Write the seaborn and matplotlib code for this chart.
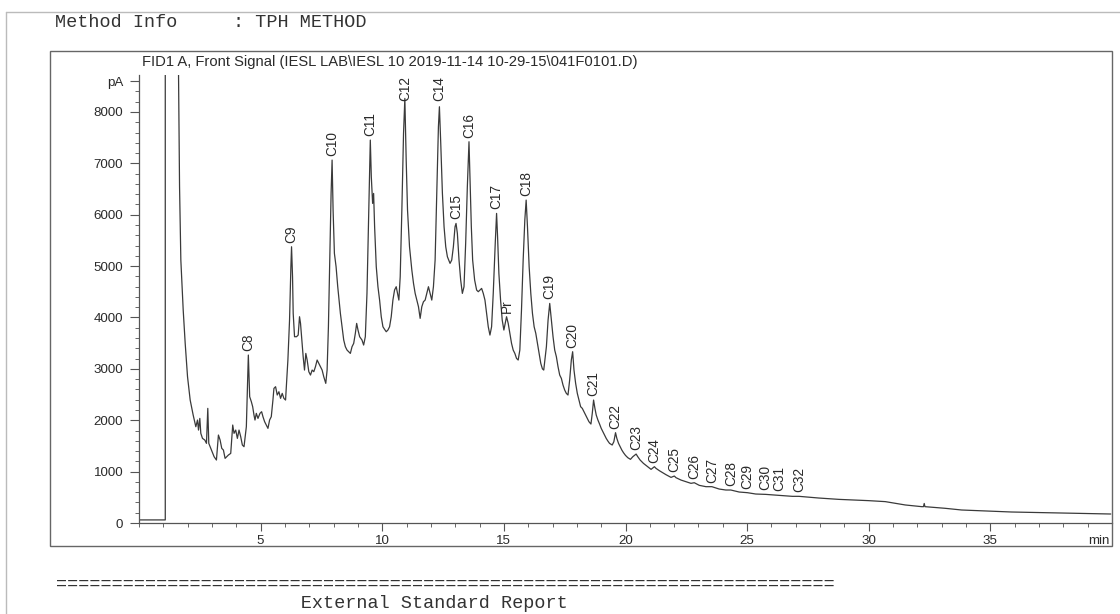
import numpy as np
import pandas as pd
import seaborn as sns
import matplotlib.pyplot as plt
from matplotlib.ticker import MultipleLocator, FixedLocator, FixedFormatter
from matplotlib.lines import Line2D
from matplotlib.patches import Rectangle

# ---------------- data ----------------
time_min = [
    0.0, 1.08, 1.08, 1.62, 1.626, 1.667, 1.72, 1.817, 1.899, 1.995, 2.104, 2.227,
    2.336, 2.405, 2.446, 2.500, 2.541, 2.610, 2.705, 2.774, 2.828, 2.869, 2.951, 3.088,
    3.183, 3.265, 3.334, 3.402, 3.470, 3.539, 3.607, 3.675, 3.771, 3.853, 3.907, 3.976,
    4.044, 4.112, 4.181, 4.249, 4.317, 4.413, 4.495, 4.550, 4.618, 4.673, 4.727, 4.768,
    4.823, 4.891, 4.973, 5.041, 5.096, 5.164, 5.233, 5.301, 5.369, 5.438, 5.506, 5.547,
    5.615, 5.683, 5.752, 5.820, 5.888, 5.957, 6.025, 6.066, 6.121, 6.189, 6.244, 6.271,
    6.312, 6.339, 6.394, 6.476, 6.544, 6.599, 6.640, 6.694, 6.749, 6.804, 6.858, 6.913,
    6.981, 7.050, 7.118, 7.186, 7.254, 7.323, 7.391, 7.459, 7.528, 7.596, 7.678, 7.733,
    7.787, 7.842, 7.897, 7.938, 7.979, 8.033, 8.102, 8.170, 8.224, 8.279, 8.347, 8.416,
    8.484, 8.552, 8.621, 8.689, 8.757, 8.826, 8.894, 8.948, 9.003, 9.071, 9.167, 9.235,
    9.304, 9.372, 9.440, 9.509, 9.550, 9.604, 9.645, 9.686, 9.754, 9.823, 9.891, 9.959,
    10.028, 10.096, 10.164, 10.233, 10.301, 10.369, 10.438, 10.506, 10.574, 10.629, 10.683, 10.738,
    10.806, 10.875, 10.929, 10.984, 11.039, 11.121, 11.216, 11.285, 11.353, 11.421, 11.489, 11.558,
    11.626, 11.694, 11.763, 11.831, 11.899, 11.968, 12.036, 12.104, 12.173, 12.241, 12.309, 12.350,
    12.405, 12.473, 12.541, 12.610, 12.678, 12.733, 12.787, 12.856, 12.924, 12.992, 13.033, 13.088,
    13.156, 13.224, 13.293, 13.361, 13.429, 13.498, 13.566, 13.607, 13.662, 13.716, 13.798, 13.880,
    13.948, 14.017, 14.085, 14.153, 14.222, 14.290, 14.358, 14.427, 14.495, 14.563, 14.645, 14.700,
    14.741, 14.795, 14.864, 14.932, 15.000, 15.055, 15.110, 15.178, 15.246, 15.315, 15.383, 15.451,
    15.520, 15.588, 15.656, 15.724, 15.793, 15.861, 15.916, 15.970, 16.039, 16.107, 16.175, 16.244,
    16.312, 16.380, 16.448, 16.517, 16.585, 16.639, 16.748, 16.817, 16.885, 16.953, 17.021, 17.090,
    17.158, 17.226, 17.295, 17.363, 17.431, 17.500, 17.568, 17.636, 17.704, 17.773, 17.827, 17.882,
    17.950, 18.019, 18.087, 18.155, 18.224, 18.292, 18.360, 18.429, 18.497, 18.579, 18.634, 18.688,
    18.743, 18.797, 18.866, 18.934, 19.002, 19.071, 19.139, 19.207, 19.276, 19.344, 19.453, 19.521,
    19.590, 19.644, 19.713, 19.781, 19.849, 19.918, 20.000, 20.095, 20.204, 20.300, 20.437, 20.505,
    20.601, 20.737, 20.874, 21.051, 21.188, 21.256, 21.393, 21.530, 21.666, 21.871, 22.008, 22.076,
    22.281, 22.486, 22.691, 22.828, 23.032, 23.306, 23.551, 23.852, 24.125, 24.330, 24.672, 25.013,
    25.355, 25.764, 26.311, 26.857, 27.131, 27.950, 28.770, 30.000, 30.680, 31.500, 32.180, 32.250,
    32.280, 32.310, 33.140, 33.820, 34.780, 35.870, 37.240, 38.600, 39.950,
]
signal_pa = [
    60, 60, 30000, 30000, 8686, 6545, 5118, 4145, 3496, 2847, 2393, 2101,
    1874, 2004, 1809, 2036, 1745, 1647, 1615, 1550, 2231, 1550, 1453, 1290,
    1226, 1712, 1615, 1453, 1420, 1258, 1290, 1323, 1355, 1907, 1745, 1809,
    1647, 1809, 1680, 1518, 1485, 1874, 3269, 2458, 2361, 2264, 2101, 2004,
    2134, 2036, 2134, 2166, 2069, 1972, 1907, 1842, 2004, 2069, 2393, 2620,
    2653, 2491, 2555, 2426, 2523, 2426, 2393, 2718, 3172, 3950, 4988, 5377,
    4793, 4080, 3626, 3626, 3658, 4015, 3885, 3561, 3237, 2977, 3301, 3172,
    2945, 2880, 2977, 2945, 3042, 3172, 3107, 3042, 2977, 2847, 2718, 2977,
    3820, 5118, 6415, 7064, 6091, 5248, 4988, 4599, 4339, 4080, 3820, 3561,
    3431, 3366, 3334, 3301, 3431, 3496, 3691, 3885, 3756, 3626, 3561, 3464,
    3626, 4469, 5961, 7453, 6740, 6221, 6415, 5766, 4988, 4599, 4339, 4015,
    3820, 3769, 3723, 3756, 3820, 4015, 4339, 4534, 4599, 4469, 4339, 4793,
    6091, 7583, 8264, 7064, 6091, 5377, 4923, 4664, 4469, 4339, 4210, 3983,
    4210, 4307, 4339, 4469, 4599, 4469, 4339, 4599, 5118, 6415, 7713, 8102,
    7388, 6415, 5766, 5377, 5183, 5118, 5053, 5118, 5377, 5766, 5831, 5637,
    5118, 4729, 4469, 4599, 5442, 6545, 7421, 6740, 5766, 5118, 4729, 4534,
    4502, 4534, 4566, 4469, 4339, 4080, 3820, 3658, 3820, 4469, 5442, 6026,
    5572, 4858, 4339, 3950, 3756, 3885, 4015, 3885, 3691, 3496, 3366, 3301,
    3204, 3172, 3366, 4145, 5118, 5896, 6285, 5766, 4988, 4469, 4080, 3820,
    3691, 3496, 3301, 3107, 3000, 2977, 3431, 3950, 4274, 3950, 3626, 3366,
    3237, 3042, 2880, 2815, 2685, 2588, 2523, 2491, 2782, 3172, 3334, 2977,
    2718, 2523, 2393, 2264, 2231, 2166, 2101, 2036, 1972, 1926, 2134, 2393,
    2231, 2101, 2004, 1926, 1842, 1777, 1712, 1647, 1595, 1550, 1518, 1582,
    1758, 1647, 1550, 1485, 1420, 1368, 1316, 1271, 1239, 1290, 1342, 1290,
    1226, 1161, 1109, 1044, 1096, 1063, 1018, 979, 940, 888, 914, 882,
    836, 804, 772, 784, 733, 707, 707, 661, 642, 642, 603, 590,
    564, 557, 538, 519, 519, 486, 460, 435, 416, 351, 318, 318,
    380, 318, 286, 253, 234, 214, 201, 188, 175,
]

peak_names = ["C8", "C9", "C10", "C11", "C12", "C14", "C15", "C16", "C17", "Pr",
              "C18", "C19", "C20", "C21", "C22", "C23", "C24", "C25", "C26", "C27",
              "C28", "C29", "C30", "C31", "C32"]
peak_times = [4.495, 6.271, 7.938, 9.509, 10.929, 12.350, 13.033, 13.566, 14.700, 15.110,
              15.916, 16.885, 17.827, 18.688, 19.590, 20.437, 21.188, 22.008, 22.828, 23.551,
              24.330, 25.013, 25.764, 26.311, 27.131]
peak_heights = [3269, 5377, 7064, 7453, 8264, 8102, 5831, 7421, 6026, 4015,
                6285, 4274, 3334, 2393, 1758, 1342, 1096, 914, 784, 707,
                642, 590, 557, 538, 519]

x_major = [5, 10, 15, 20, 25, 30, 35]
y_major = [0, 1000, 2000, 3000, 4000, 5000, 6000, 7000, 8000, 8600]
y_major_labels = ["0", "1000", "2000", "3000", "4000", "5000", "6000", "7000", "8000", "pA"]

title_text = "FID1 A, Front Signal (IESL LAB\\IESL 10 2019-11-14 10-29-15\\041F0101.D)"
header_text = "Method Info     : TPH METHOD"
footer_rule = "=" * 70
footer_text = " " * 22 + "External Standard Report"

# ---------------- styling ----------------
sns.set_theme(style="white")
plt.rcParams['font.family'] = ['Liberation Sans', 'DejaVu Sans']

W, H = 1120, 614
fig = plt.figure(figsize=(W / 100, H / 100), dpi=100)
fig.patch.set_facecolor("white")

ax_left, ax_right, ax_top, ax_bottom = 139, 1112, 75, 523
ax = fig.add_axes([ax_left / W, 1 - ax_bottom / H, (ax_right - ax_left) / W, (ax_bottom - ax_top) / H])
ax.set_facecolor("none")

df = pd.DataFrame({"time": time_min, "signal": signal_pa})
sns.lineplot(data=df, x="time", y="signal", ax=ax, sort=False, estimator=None,
             color="#3a3a3a", linewidth=0.9)

ax.set_xlim(0, 40)
ax.set_ylim(0, 8720)
ax.set_xlabel("")
ax.set_ylabel("")

ink = "#2a2a2a"
ax.xaxis.set_major_locator(FixedLocator(x_major))
ax.xaxis.set_minor_locator(MultipleLocator(1))
ax.yaxis.set_major_locator(FixedLocator(y_major))
ax.yaxis.set_major_formatter(FixedFormatter(y_major_labels))
ax.yaxis.set_minor_locator(MultipleLocator(200))
ax.tick_params(axis="x", which="major", direction="out", length=6, width=0.8,
               color="#555555", labelsize=9.6, labelcolor=ink, pad=2.5, bottom=True)
ax.tick_params(axis="y", which="major", direction="out", length=6.5, width=0.8,
               color="#555555", labelsize=9.6, labelcolor=ink, pad=4.8, left=True)
ax.tick_params(axis="both", which="minor", direction="out", length=3, width=0.7,
               color="#666666", bottom=True, left=True)
for side in ["top", "right"]:
    ax.spines[side].set_visible(False)
for side in ["left", "bottom"]:
    ax.spines[side].set_color("#555555")
    ax.spines[side].set_linewidth(0.9)

ax.annotate("min", xy=(1, 0), xycoords="axes fraction", xytext=(-2, -8.5),
            textcoords="offset points", ha="right", va="top", fontsize=9.6, color=ink)

# peak labels
ytop = ax.get_ylim()[1]
for name, t, h in zip(peak_names, peak_times, peak_heights):
    if h > 8000:
        ax.annotate(name, xy=(t, ytop - 30), ha="center", va="top", rotation=90,
                    fontsize=9.8, color=ink, annotation_clip=False)
    else:
        ax.annotate(name, xy=(t, h), xytext=(0, 3), textcoords="offset points",
                    ha="center", va="bottom", rotation=90, fontsize=9.8, color=ink)

# outer frame of the chart
fig.add_artist(Rectangle((50 / W, 1 - 546 / H), (1112 - 50) / W, (546 - 51) / H,
                         transform=fig.transFigure, fill=False, edgecolor="#666666", linewidth=1.0))
# page edges of the scan
fig.add_artist(Line2D([6 / W, 1], [1 - 12 / H, 1 - 12 / H], transform=fig.transFigure,
                      color="#bbbbbb", linewidth=1.0))
fig.add_artist(Line2D([6 / W, 6 / W], [0, 1 - 12 / H], transform=fig.transFigure,
                      color="#bbbbbb", linewidth=1.0))

fig.text(142 / W, 1 - 66 / H, title_text, fontsize=10.6, color=ink, va="baseline", ha="left")
mono = ['Liberation Mono', 'DejaVu Sans Mono']
fig.text(55 / W, 1 - 27 / H, header_text, family=mono, fontsize=13.3, color="#333333",
         va="baseline", ha="left")
fig.text(56 / W, 1 - 589 / H, footer_rule, family=mono, fontsize=13.3, color="#333333",
         va="baseline", ha="left")
fig.text(56 / W, 1 - 608 / H, footer_text, family=mono, fontsize=13.3, color="#333333",
         va="baseline", ha="left")

fig.savefig("out.png", dpi=100, facecolor="white")
